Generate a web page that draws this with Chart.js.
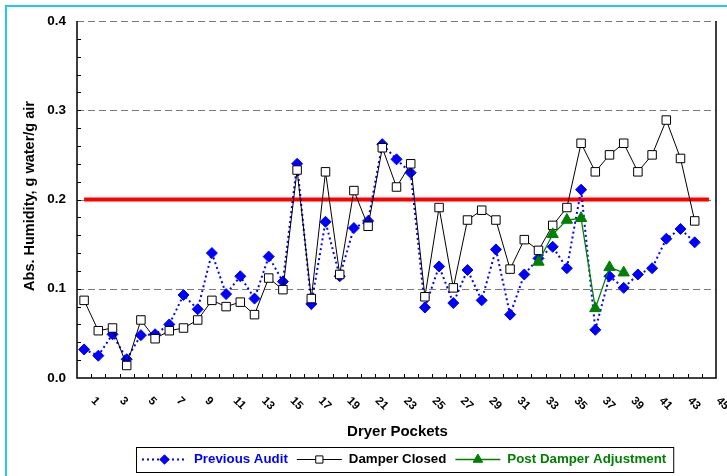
<!DOCTYPE html>
<html>
<head>
<meta charset="utf-8">
<script src="https://cdn.jsdelivr.net/npm/chart.js@4/dist/chart.umd.min.js"></script>
<style>
  html, body { margin: 0; padding: 0; background: #fff; }
  #wrap { width: 727px; height: 476px; }
</style>
</head>
<body>
<div id="wrap"><canvas id="c" width="727" height="476"></canvas></div>
<script>
// ---------- data ----------
const categories = ['1','2','3','4','5','6','7','8','9','10','11','12','13','14','15','16','17','18','19','20','21','22','23','24','25','26','27','28','29','30','31','32','33','34','35','36','37','38','39','40','41','42','43','44','45'];
const previousAudit = [0.032,0.025,0.049,0.021,0.048,0.049,0.060,0.093,0.077,0.140,0.094,0.114,0.089,0.136,0.108,0.240,0.083,0.175,0.114,0.168,0.176,0.262,0.245,0.230,0.079,0.125,0.084,0.121,0.087,0.144,0.071,0.116,0.134,0.147,0.123,0.211,0.054,0.114,0.101,0.116,0.123,0.156,0.167,0.152];
const damperClosed = [0.087,0.053,0.056,0.014,0.065,0.044,0.053,0.056,0.065,0.087,0.080,0.085,0.071,0.112,0.099,0.233,0.089,0.231,0.116,0.210,0.170,0.258,0.214,0.240,0.091,0.191,0.101,0.177,0.188,0.177,0.122,0.155,0.143,0.171,0.191,0.263,0.231,0.250,0.263,0.231,0.250,0.289,0.246,0.176];
const postDamperPockets = ['33','34','35','36','37','38','39'];
const postDamperValues = [0.130,0.161,0.177,0.179,0.078,0.124,0.118];
const targetValue = 0.2;
const targetFrom = '1';
const targetTo = '45';
const yTickValues = [0, 0.1, 0.2, 0.3, 0.4];
const seriesNames = ['Previous Audit', 'Damper Closed', 'Post Damper Adjustment'];
const xTitle = 'Dryer Pockets';
const yTitle = 'Abs. Humidity, g water/g air';

const FONT = '"Liberation Sans", Arial, Helvetica, sans-serif';
const BLUE = '#0000FF', GREEN = '#008000', RED = '#FF0000';

const postDamper = postDamperPockets.map((p, i) => ({ x: p, y: postDamperValues[i] }));
const targetLine = [{ x: targetFrom, y: targetValue }, { x: targetTo, y: targetValue }];

// ---------- custom drawing plugin ----------
const decor = {
  id: 'decor',
  beforeDraw(chart) {
    const ctx = chart.ctx;
    ctx.save();
    ctx.fillStyle = '#fff';
    ctx.fillRect(0, 0, chart.width, chart.height);
    ctx.strokeStyle = '#22C8F4';
    ctx.lineWidth = 2;
    ctx.beginPath();
    ctx.moveTo(6, chart.height + 5);
    ctx.lineTo(6, 6);
    ctx.lineTo(chart.width + 5, 6);
    ctx.stroke();
    ctx.restore();
  },
  beforeDatasetsDraw(chart) {
    const ctx = chart.ctx, a = chart.chartArea;
    const xs = chart.scales.x, ys = chart.scales.y;
    ctx.save();
    ctx.strokeStyle = '#7a7a7a';
    ctx.lineWidth = 1;
    ctx.setLineDash([7, 4]);
    yTickValues.forEach(v => {
      if (v === 0) return;
      const y = Math.round(ys.getPixelForValue(v)) + 0.5;
      ctx.beginPath(); ctx.moveTo(a.left, y); ctx.lineTo(a.right, y); ctx.stroke();
    });
    ctx.setLineDash([]);
    ctx.strokeStyle = '#000';
    ctx.lineWidth = 1.5;
    ctx.beginPath();
    ctx.moveTo(a.left, a.top); ctx.lineTo(a.left, a.bottom); ctx.lineTo(a.right, a.bottom); ctx.lineTo(a.right, a.top);
    ctx.stroke();
    ctx.lineWidth = 1;
    for (let k = 1; k < 20; k++) {
      const y = Math.round(ys.getPixelForValue(k * 0.02)) + 0.5;
      ctx.beginPath(); ctx.moveTo(a.left, y); ctx.lineTo(a.left + 4, y); ctx.stroke();
    }
    const n = categories.length;
    const step = (xs.getPixelForValue(1) - xs.getPixelForValue(0));
    for (let i = 1; i < n; i++) {
      const x = Math.round(xs.getPixelForValue(i) - step / 2) + 0.5;
      ctx.beginPath(); ctx.moveTo(x, a.bottom); ctx.lineTo(x, a.bottom - 4); ctx.stroke();
    }
    ctx.restore();
  },
  afterDraw(chart) {
    const ctx = chart.ctx, a = chart.chartArea;
    const xs = chart.scales.x;
    ctx.save();
    ctx.fillStyle = '#000';
    ctx.font = 'bold 11.5px ' + FONT;
    ctx.textAlign = 'left';
    ctx.textBaseline = 'middle';
    categories.forEach((c, i) => {
      if (i % 2 !== 0) return;
      const cx = xs.getPixelForValue(i);
      ctx.save();
      ctx.translate(cx + 9, a.bottom + 21);
      ctx.rotate(Math.PI / 4);
      ctx.fillText(c, 0, 0);
      ctx.restore();
    });
    ctx.font = 'bold 15px ' + FONT;
    ctx.textAlign = 'center';
    ctx.fillText(xTitle, (a.left + a.right) / 2 + 1, 432);
    ctx.save();
    ctx.font = 'bold 14.5px ' + FONT;
    ctx.translate(30, 196);
    ctx.rotate(-Math.PI / 2);
    ctx.textAlign = 'center';
    ctx.fillText(yTitle, 0, 0);
    ctx.restore();

    // legend
    const ds = chart.data.datasets;
    const items = [0, 1, 2].map(i => ds[i]);
    const colors = [BLUE, '#000', GREEN];
    const cy = 459.5;
    const symW = 45;
    ctx.font = 'bold 13.3px ' + FONT;
    let x = 142;
    const startX = 136;
    items.forEach((d, i) => {
      ctx.save();
      ctx.strokeStyle = d.borderColor;
      ctx.lineWidth = d.borderWidth;
      ctx.setLineDash(d.borderDash || []);
      ctx.beginPath(); ctx.moveTo(x, cy); ctx.lineTo(x + symW, cy); ctx.stroke();
      ctx.setLineDash([]);
      ctx.fillStyle = d.pointBackgroundColor;
      ctx.strokeStyle = d.pointBorderColor;
      ctx.lineWidth = d.pointBorderWidth;
      ctx.beginPath();
      const r = d.pointRadius * 0.85;
      const px = x + symW / 2;
      if (d.pointStyle === 'rectRot') {
        ctx.moveTo(px - r, cy); ctx.lineTo(px, cy - r); ctx.lineTo(px + r, cy); ctx.lineTo(px, cy + r); ctx.closePath();
      } else if (d.pointStyle === 'rect') {
        const s = r * Math.SQRT1_2; ctx.rect(px - s, cy - s, 2 * s, 2 * s);
      } else {
        ctx.moveTo(px, cy - r); ctx.lineTo(px + r * 0.866, cy + r / 2); ctx.lineTo(px - r * 0.866, cy + r / 2); ctx.closePath();
      }
      ctx.fill(); ctx.stroke();
      ctx.restore();
      x += symW + 7;
      ctx.fillStyle = colors[i];
      ctx.textAlign = 'left';
      ctx.textBaseline = 'middle';
      ctx.fillText(d.label, x, cy);
      x += ctx.measureText(d.label).width + 9;
    });
    ctx.strokeStyle = '#000';
    ctx.lineWidth = 1;
    ctx.strokeRect(startX + 0.5, 447.5, x - startX - 2, 25);
    ctx.restore();
  }
};

new Chart(document.getElementById('c'), {
  type: 'line',
  data: {
    labels: categories,
    datasets: [
      {
        label: seriesNames[0], data: previousAudit, order: 2,
        borderColor: BLUE, borderWidth: 2, borderDash: [2, 3],
        pointStyle: 'rectRot', pointRadius: 5.5, pointBackgroundColor: BLUE, pointBorderColor: BLUE, pointBorderWidth: 1,
        tension: 0, fill: false
      },
      {
        label: seriesNames[1], data: damperClosed, order: 1,
        borderColor: '#000', borderWidth: 1,
        pointStyle: 'rect', pointRadius: 6, pointBackgroundColor: '#fff', pointBorderColor: '#000', pointBorderWidth: 1,
        tension: 0, fill: false
      },
      {
        label: seriesNames[2], data: postDamper, order: 0,
        borderColor: GREEN, borderWidth: 1.3,
        pointStyle: 'triangle', pointRadius: 6.5, pointBackgroundColor: GREEN, pointBorderColor: GREEN, pointBorderWidth: 1,
        tension: 0, fill: false
      },
      {
        label: 'target', data: targetLine, order: 3,
        borderColor: RED, borderWidth: 4, pointRadius: 0, fill: false
      }
    ]
  },
  options: {
    responsive: false,
    animation: false,
    devicePixelRatio: 1,
    layout: { autoPadding: false, padding: { top: 21, right: 11, left: 0, bottom: 0 } },
    plugins: { legend: { display: false }, tooltip: { enabled: false } },
    scales: {
      x: {
        type: 'category',
        offset: true,
        grid: { display: false },
        border: { display: false },
        ticks: { display: false },
        afterFit(s) { s.height = 98; }
      },
      y: {
        min: 0, max: 0.4,
        grid: { display: false, drawTicks: false },
        border: { display: false },
        afterBuildTicks(s) { s.ticks = yTickValues.map(v => ({ value: v })); },
        ticks: {
          padding: 11,
          color: '#000',
          font: { family: FONT, size: 13.5, weight: 'bold' },
          callback: v => Number(v).toFixed(1)
        },
        afterFit(s) { s.width = 77; }
      }
    }
  },
  plugins: [decor]
});
</script>
</body>
</html>
